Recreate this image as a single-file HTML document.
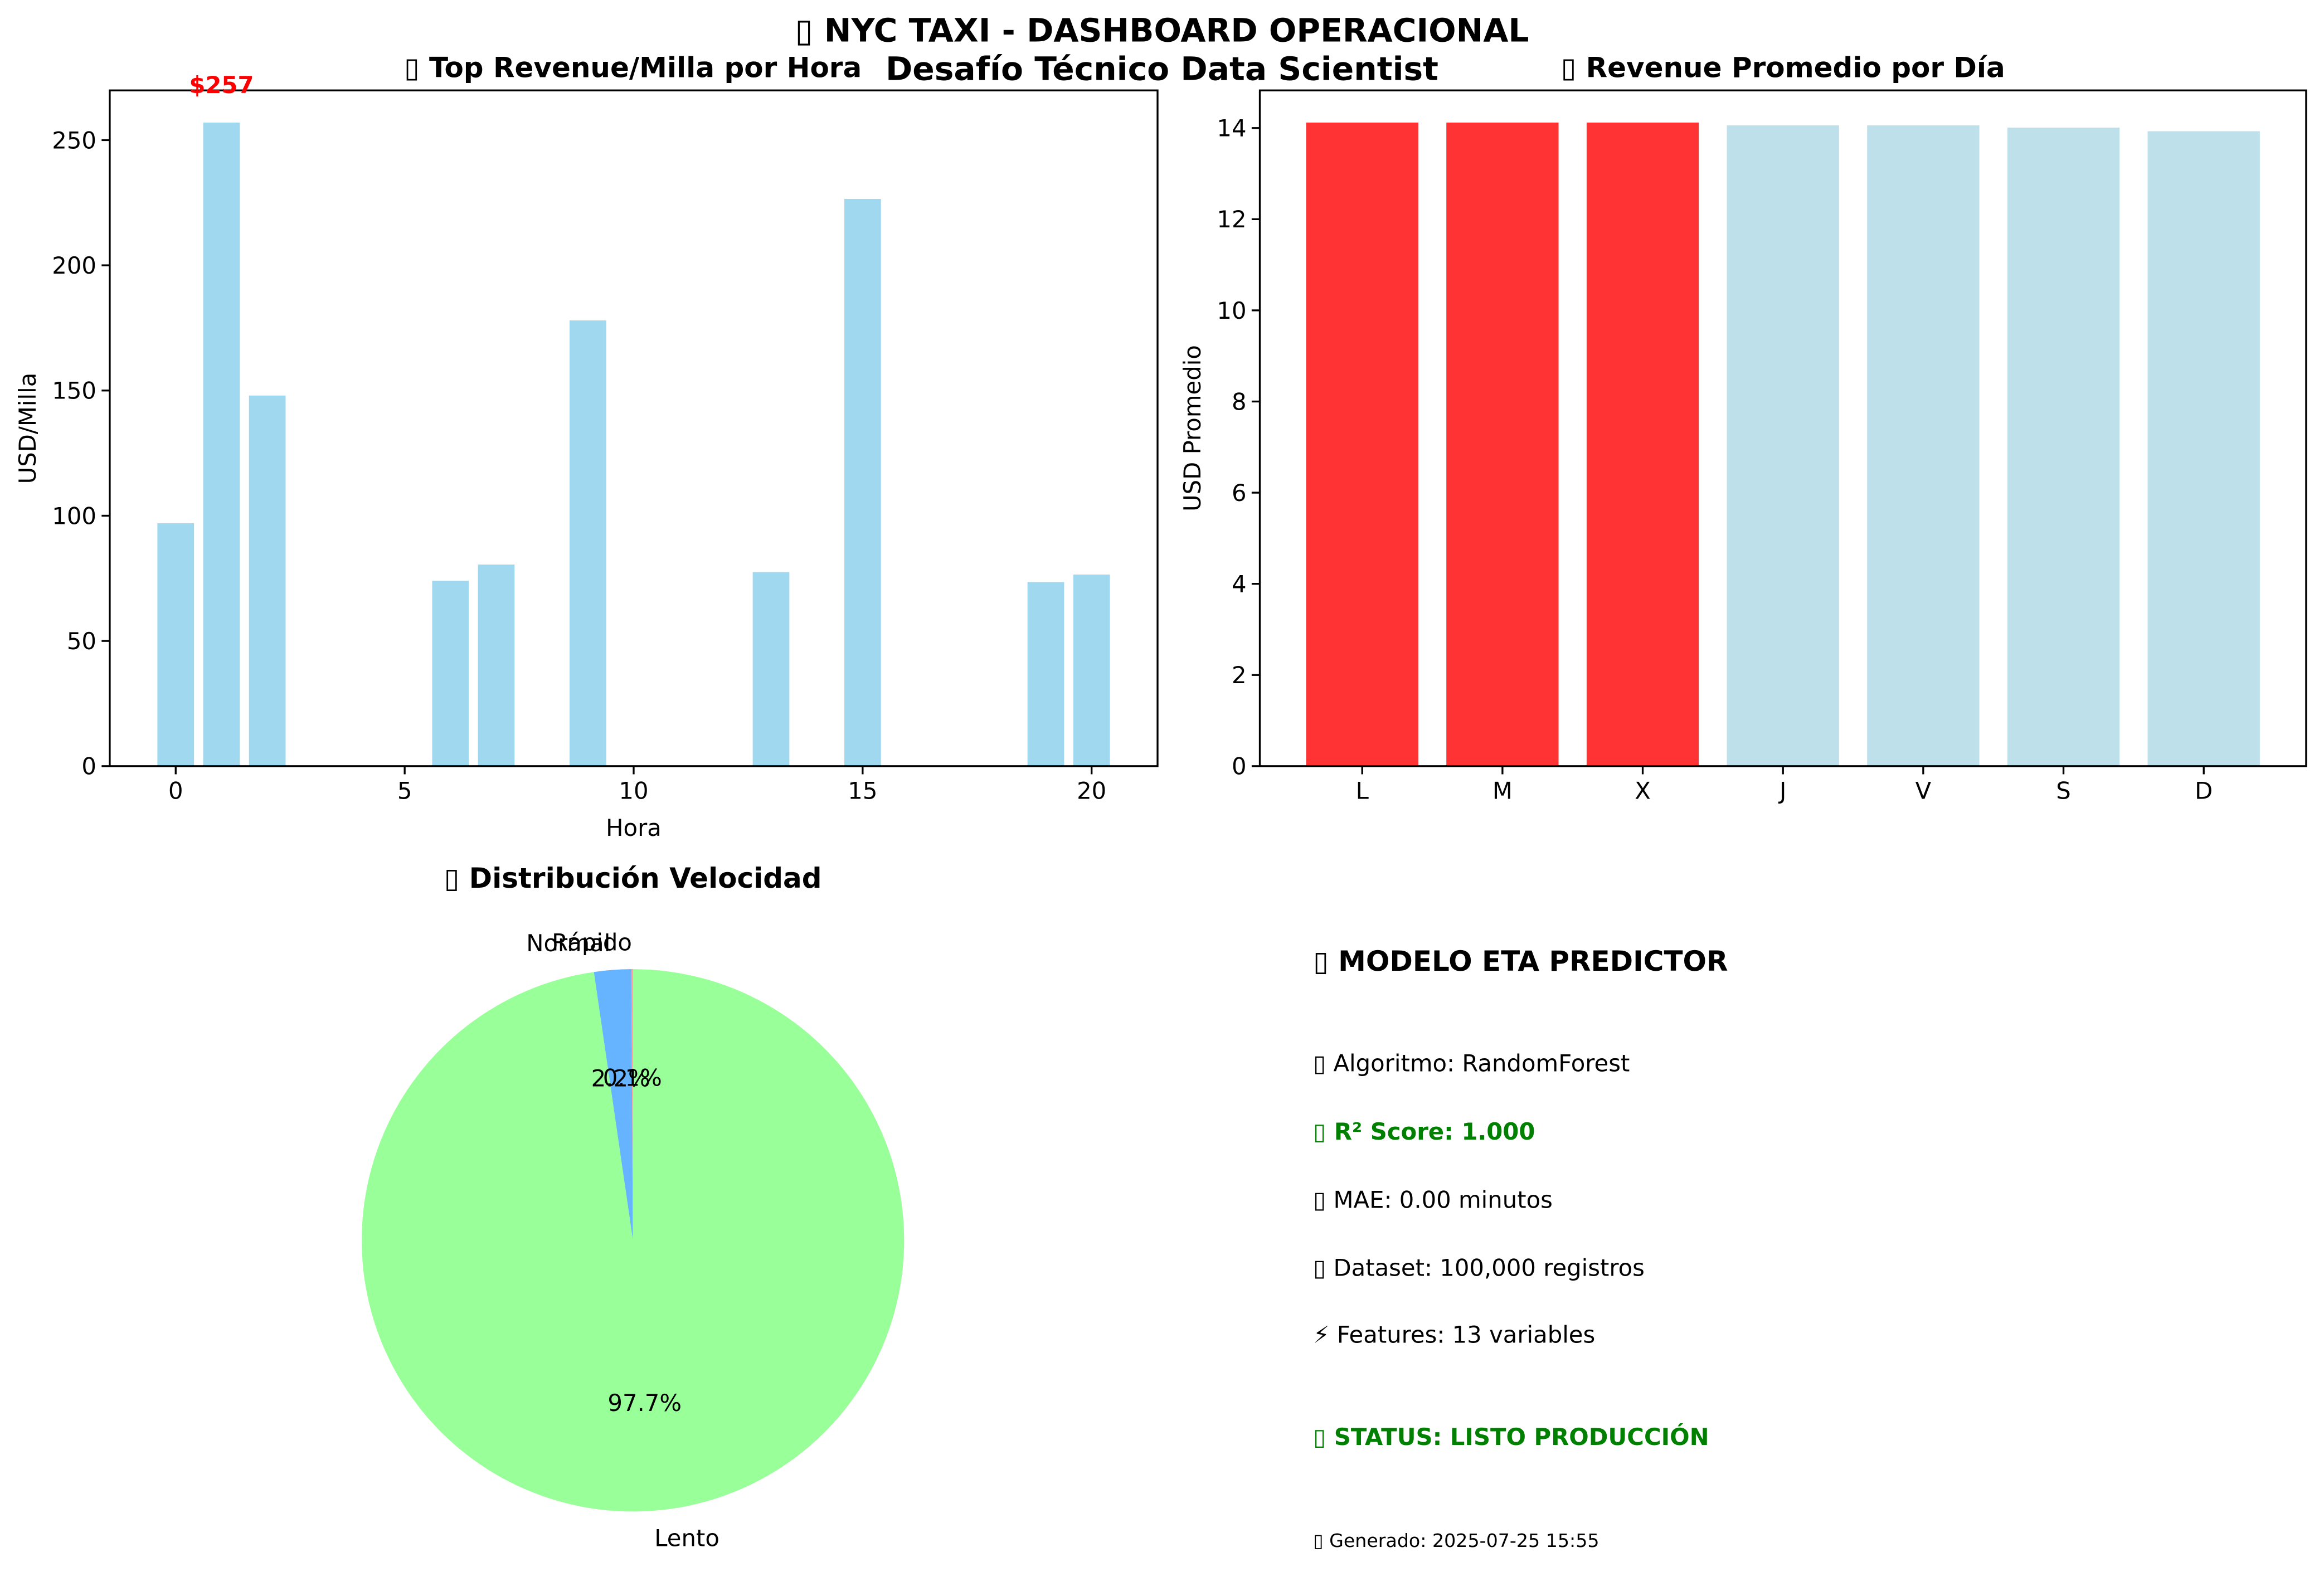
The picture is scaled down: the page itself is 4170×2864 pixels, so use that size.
<!DOCTYPE html>
<html><head><meta charset="utf-8"><style>
html,body{margin:0;padding:0;background:#fff}
svg{display:block}
text{font-family:"DejaVu Sans","Liberation Sans",sans-serif}
</style></head><body>
<svg id="fig" width="4170" height="2864" viewBox="0 0 1568 1077" xmlns="http://www.w3.org/2000/svg">
<rect width="1568" height="1077" fill="#fff"/>
<text x="784" y="28" font-size="21.9" font-weight="bold" text-anchor="middle">▯ NYC TAXI - DASHBOARD OPERACIONAL</text>
<text x="784" y="54" font-size="21.9" font-weight="bold" text-anchor="middle">Desafío Técnico Data Scientist</text>
<text x="427" y="52" font-size="18.8" font-weight="bold" text-anchor="middle">▯ Top Revenue/Milla por Hora</text>
<text x="1203" y="52" font-size="18.8" font-weight="bold" text-anchor="middle">▯ Revenue Promedio por Día</text>
<text x="427" y="599" font-size="18.8" font-weight="bold" text-anchor="middle">▯ Distribución Velocidad</text>
<g id="hourChart"></g>
<g id="dayChart"></g>
<g id="pieChart"></g>
<g>
<text x="886" y="655" font-size="18.8" font-weight="bold">▯ MODELO ETA PREDICTOR</text>
<text x="886" y="723" font-size="15.7">▯ Algoritmo: RandomForest</text>
<text x="886" y="769" font-size="15.7" font-weight="bold" fill="#008000">▯ R² Score: 1.000</text>
<text x="886" y="815" font-size="15.7">▯ MAE: 0.00 minutos</text>
<text x="886" y="861" font-size="15.7">▯ Dataset: 100,000 registros</text>
<text x="886" y="906" font-size="15.7">⚡ Features: 13 variables</text>
<text x="886" y="975" font-size="15.7" font-weight="bold" fill="#008000">▯ STATUS: LISTO PRODUCCIÓN</text>
<text x="886" y="1044" font-size="12.5">▯ Generado: 2025-07-25 15:55</text>
</g>
</svg>
<script>
const hours = [0, 1, 2, 6, 7, 9, 13, 15, 19, 20];
const hourValues = [97, 257, 148, 74, 80.5, 178, 77.5, 226.5, 73.5, 76.5];
const hourTicks = [0, 5, 10, 15, 20];
const hourYTicks = [0, 50, 100, 150, 200, 250];
const days = ['L', 'M', 'X', 'J', 'V', 'S', 'D'];
const dayValues = [14.12, 14.12, 14.12, 14.06, 14.06, 14.01, 13.93];
const dayHighlight = [true, true, true, false, false, false, false];
const dayYTicks = [0, 2, 4, 6, 8, 10, 12, 14];
const speedLabels = ['Rápido', 'Normal', 'Lento'];
const speedValues = [0.1, 2.2, 97.7];
const speedColors = ['#ff9999', '#66b3ff', '#99ff99'];

const NS = 'http://www.w3.org/2000/svg';
function mk(parent, tag, attrs, txt) {
  const e = document.createElementNS(NS, tag);
  for (const k in attrs) e.setAttribute(k, attrs[k]);
  if (txt !== undefined) e.textContent = txt;
  parent.appendChild(e);
  return e;
}
function lin(d0, d1, r0, r1) { return v => r0 + (v - d0) / (d1 - d0) * (r1 - r0); }

(function () {
  const g = document.getElementById('hourChart');
  const L = 74, R = 781, T = 61, B = 517;
  const x = lin(-1.44, 21.44, L, R);
  const y = lin(0, Math.max(...hourValues) * 1.05, B, T);
  hours.forEach((h, i) => {
    const b = mk(g, 'rect', { x: x(h - 0.4), y: y(hourValues[i]), width: x(h + 0.4) - x(h - 0.4), height: B - y(hourValues[i]), fill: '#87ceeb', 'fill-opacity': 0.8 });
    
    
  });
  mk(g, 'rect', { x: L, y: T, width: R - L, height: B - T, fill: 'none', stroke: '#000', 'stroke-width': 1.25 });
  hourTicks.forEach(t => {
    mk(g, 'line', { x1: x(t), x2: x(t), y1: B, y2: B + 5.5, stroke: '#000', 'stroke-width': 1.25 });
    const lb = mk(g, 'text', { x: x(t), y: B + 22, 'font-size': 15.7, 'text-anchor': 'middle' }, t);
    
    
  });
  hourYTicks.forEach(t => {
    mk(g, 'line', { x1: L, x2: L - 5.5, y1: y(t), y2: y(t), stroke: '#000', 'stroke-width': 1.25 });
    const lb = mk(g, 'text', { x: L - 9, y: y(t) + 5.6, 'font-size': 15.7, 'text-anchor': 'end' }, t);
    
    
  });
  const xl = mk(g, 'text', { x: (L + R) / 2, y: 564, 'font-size': 15.7, 'text-anchor': 'middle' }, 'Hora');
  
  
  const yl = mk(g, 'text', { x: 0, y: 0, 'font-size': 15.7, 'text-anchor': 'middle', transform: 'translate(24,' + (T + B) / 2 + ') rotate(-90)' }, 'USD/Milla');
  
  
  const mi = hourValues.indexOf(Math.max(...hourValues));
  const an = mk(g, 'text', { x: x(hours[mi]), y: y(hourValues[mi]) - 20, 'font-size': 15.7, 'font-weight': 'bold', fill: '#ff0000', 'text-anchor': 'middle' }, '$' + Math.round(hourValues[mi]));
  
  
})();

(function () {
  const g = document.getElementById('dayChart');
  const L = 850, R = 1556, T = 61, B = 517;
  const x = lin(-0.73, 6.73, L, R);
  const y = lin(0, Math.max(...dayValues) * 1.05, B, T);
  days.forEach((d, i) => {
    const b = mk(g, 'rect', { x: x(i - 0.4), y: y(dayValues[i]), width: x(i + 0.4) - x(i - 0.4), height: B - y(dayValues[i]), fill: dayHighlight[i] ? '#ff0000' : '#add8e6', 'fill-opacity': 0.8 });
    
    
  });
  mk(g, 'rect', { x: L, y: T, width: R - L, height: B - T, fill: 'none', stroke: '#000', 'stroke-width': 1.25 });
  days.forEach((d, i) => {
    mk(g, 'line', { x1: x(i), x2: x(i), y1: B, y2: B + 5.5, stroke: '#000', 'stroke-width': 1.25 });
    const lb = mk(g, 'text', { x: x(i), y: B + 22, 'font-size': 15.7, 'text-anchor': 'middle' }, d);
    
    
  });
  dayYTicks.forEach(t => {
    mk(g, 'line', { x1: L, x2: L - 5.5, y1: y(t), y2: y(t), stroke: '#000', 'stroke-width': 1.25 });
    const lb = mk(g, 'text', { x: L - 9, y: y(t) + 5.6, 'font-size': 15.7, 'text-anchor': 'end' }, t);
    
    
  });
  const yl = mk(g, 'text', { x: 0, y: 0, 'font-size': 15.7, 'text-anchor': 'middle', transform: 'translate(810,' + (T + B) / 2 + ') rotate(-90)' }, 'USD Promedio');
  
  
})();

(function () {
  const g = document.getElementById('pieChart');
  const cx = 427, cy = 837, r = 183;
  const total = speedValues.reduce((a, b) => a + b, 0);
  let a0 = 90;
  const P = (ang, rr) => [cx + rr * Math.cos(ang * Math.PI / 180), cy - rr * Math.sin(ang * Math.PI / 180)];
  const labelsToDraw = [];
  speedValues.forEach((v, i) => {
    const sweep = v / total * 360;
    const a1 = a0 + sweep;
    const p0 = P(a0, r), p1 = P(a1, r);
    const large = sweep > 180 ? 1 : 0;
    const w = mk(g, 'path', { d: `M${cx},${cy} L${p0[0]},${p0[1]} A${r},${r} 0 ${large} 0 ${p1[0]},${p1[1]} Z`, fill: speedColors[i] });
    
    
    labelsToDraw.push([(a0 + a1) / 2, i, v]);
    a0 = a1;
  });
  labelsToDraw.forEach(([mid, i, v]) => {
    const lp = P(mid, r * 1.1);
    const anchor = Math.cos(mid * Math.PI / 180) > 0 ? 'start' : 'end';
    const lb = mk(g, 'text', { x: lp[0], y: lp[1] + 5.6, 'font-size': 15.7, 'text-anchor': anchor }, speedLabels[i]);
    
    
    const pp = P(mid, r * 0.6);
    const pt = mk(g, 'text', { x: pp[0], y: pp[1] + 5.6, 'font-size': 15.7, 'text-anchor': 'middle' }, (v / total * 100).toFixed(1) + '%');
    
    
  });
})();
</script>
</body></html>
